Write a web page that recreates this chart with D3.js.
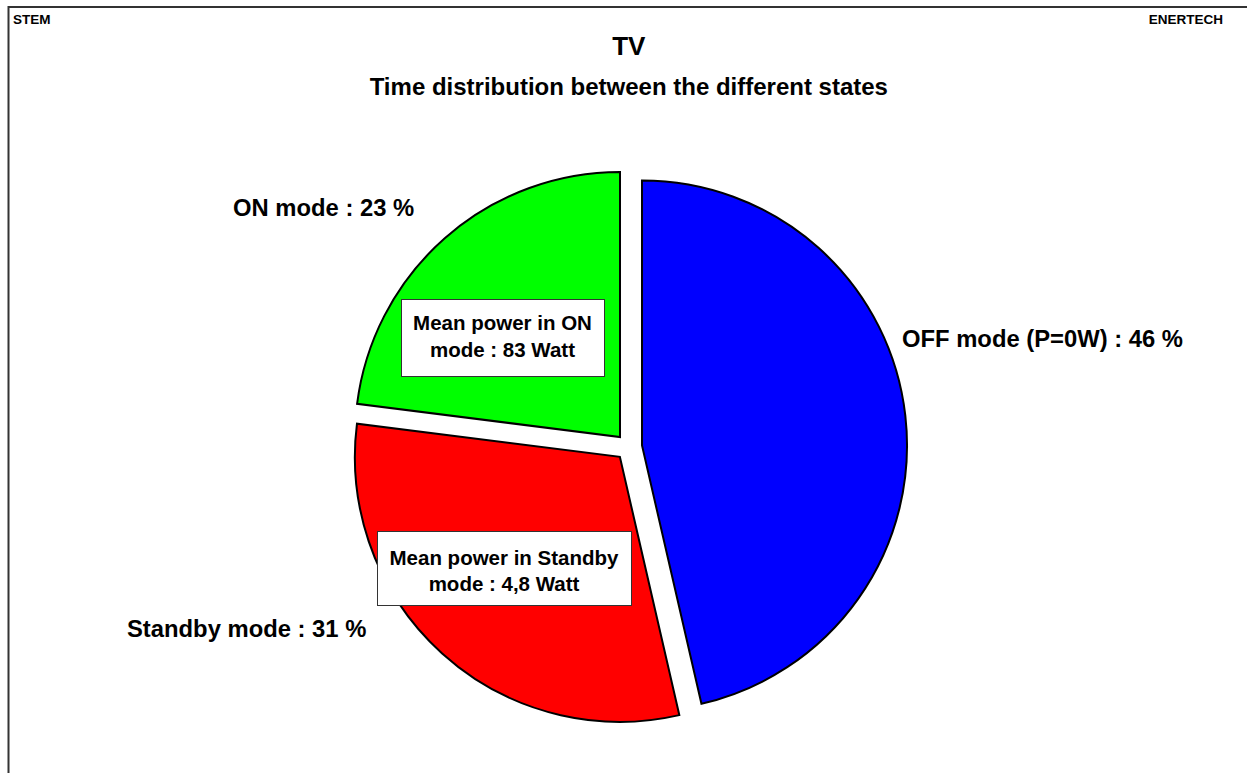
<!DOCTYPE html>
<html><head><meta charset="utf-8">
<script src="https://cdn.jsdelivr.net/npm/d3@7"></script>
<style>
html,body{margin:0;padding:0;background:#fff;}
svg{display:block;font-family:"Liberation Sans",Arial,sans-serif;font-weight:bold;}
</style></head>
<body>
<script>
// ---- data ----
const categories = ["OFF mode (P=0W)", "Standby mode", "ON mode"];
const shares = [46.4, 30.6, 23.0];
const colors = ["#0000FF", "#FF0000", "#00FF00"];
const noteTexts = [
  null,
  ["Mean power in Standby", "mode : 4,8 Watt"],
  ["Mean power in ON", "mode : 83 Watt"]
];
const chartTitle = "TV";
const chartSubtitle = "Time distribution between the different states";
const cornerLeft = "STEM";
const cornerRight = "ENERTECH";

// ---- layout ----
const W = 1247, H = 773;
const cx = 628.8, cy = 447, R = 265, explode = 13.3;

const svg = d3.select("body").append("svg").attr("width", W).attr("height", H);

// frame
svg.append("line").attr("x1", 8.5).attr("y1", 7).attr("x2", W).attr("y2", 7)
  .attr("stroke", "#333").attr("stroke-width", 2);
svg.append("line").attr("x1", 8.5).attr("y1", 6).attr("x2", 8.5).attr("y2", H)
  .attr("stroke", "#333").attr("stroke-width", 2);

svg.append("text").attr("x", 13).attr("y", 24).attr("font-size", 13.5).text(cornerLeft);
svg.append("text").attr("x", 1223).attr("y", 24).attr("font-size", 13.5)
  .attr("text-anchor", "end").text(cornerRight);

svg.append("text").attr("x", cx).attr("y", 55).attr("font-size", 26)
  .attr("text-anchor", "middle").text(chartTitle);
svg.append("text").attr("x", cx).attr("y", 95).attr("font-size", 24)
  .attr("text-anchor", "middle").text(chartSubtitle);

// pie
const pie = d3.pie().sort(null).value(d => d).startAngle(0).endAngle(2 * Math.PI);
const arcs = pie(shares);
const arc = d3.arc().innerRadius(0).outerRadius(R);

const g = svg.append("g").attr("transform", `translate(${cx},${cy})`);
g.selectAll("path").data(arcs).join("path")
  .attr("d", arc)
  .attr("fill", (d, i) => colors[i])
  .attr("stroke", "#000").attr("stroke-width", 2).attr("stroke-linejoin", "miter")
  .attr("transform", d => {
    const a = (d.startAngle + d.endAngle) / 2;
    return `translate(${explode * Math.sin(a)},${-explode * Math.cos(a)})`;
  });

// slice labels
const labelPos = [
  {x: 902, y: 347},
  {x: 127, y: 637},
  {x: 233, y: 216}
];
arcs.forEach((d, i) => {
  svg.append("text").attr("x", labelPos[i].x).attr("y", labelPos[i].y)
    .attr("font-size", 23.8)
    .text(`${categories[i]} : ${Math.round(d.data)} %`);
});

// note boxes
const boxes = [
  null,
  {x: 377, y: 531, w: 254, h: 74, l1: 565, l2: 591},
  {x: 401, y: 299, w: 203, h: 77, l1: 330, l2: 357}
];
noteTexts.forEach((lines, i) => {
  if (!lines) return;
  const b = boxes[i];
  svg.append("rect").attr("x", b.x + 0.5).attr("y", b.y + 0.5).attr("width", b.w).attr("height", b.h)
    .attr("fill", "#fff").attr("stroke", "#333").attr("stroke-width", 1);
  svg.append("text").attr("x", b.x + b.w / 2).attr("y", b.l1).attr("font-size", 20.5)
    .attr("text-anchor", "middle").text(lines[0]);
  svg.append("text").attr("x", b.x + b.w / 2).attr("y", b.l2).attr("font-size", 20.5)
    .attr("text-anchor", "middle").text(lines[1]);
});
</script>
</body></html>
